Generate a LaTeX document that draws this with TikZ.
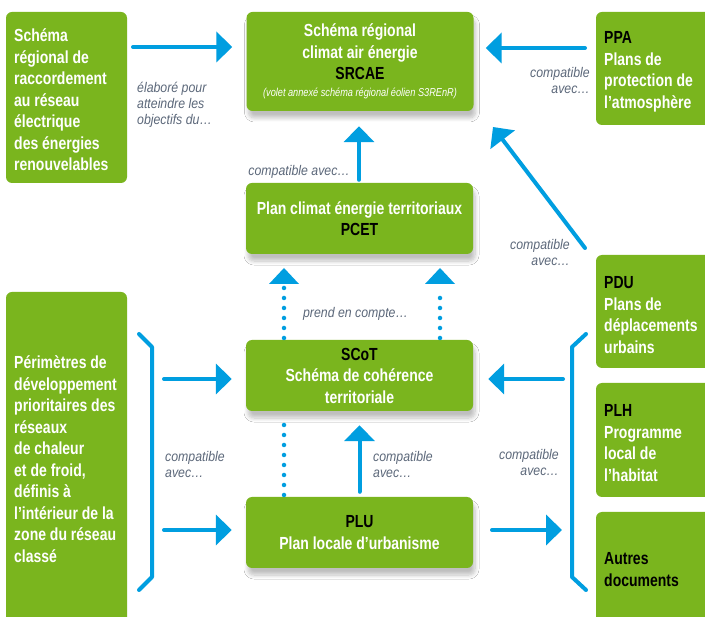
\documentclass[tikz,border=0pt]{standalone}
\usepackage{fontspec}
\setmainfont{Liberation Sans}[FakeStretch=0.8]
\newfontfamily\lblfont{Liberation Sans}[FakeStretch=0.88]
\usetikzlibrary{arrows.meta,shadows.blur}
\definecolor{vert}{RGB}{122,181,30}
\definecolor{bleu}{RGB}{0,158,224}
\definecolor{gris}{RGB}{92,104,122}
\tikzset{
  box/.style={fill=vert, rounded corners=6pt, inner sep=0pt, draw=none},
  midbox/.style={box, blur shadow={shadow xshift=2pt, shadow yshift=-7pt, shadow blur radius=4pt, shadow opacity=25, shadow blur steps=8},
    minimum width=227pt, minimum height=71pt, text=white, align=center,
    font=\bfseries\fontsize{17.5}{21.5}\selectfont},
  boxtxt/.style={text=white, align=left, anchor=north west, inner sep=0pt,
    font=\bfseries\fontsize{17.5}{21.5}\selectfont},
  lbl/.style={text=gris, inner sep=0pt, font=\lblfont\itshape\fontsize{14}{16}\selectfont},
  arr/.style={draw=bleu, line width=4pt, line cap=round, -{Triangle[width=30pt,length=16pt]}},
  dotline/.style={draw=bleu, line width=4.5pt, line cap=round, dash pattern=on 0pt off 10pt},
  bracket/.style={draw=bleu, line width=4pt, line cap=round, line join=round},
}
\begin{document}
\begin{tikzpicture}[x=1pt,y=-1pt]
\useasboundingbox (0,0) rectangle (705,617);
\clip (0,0) rectangle (705,617);
\fill[white] (0,0) rectangle (705,617);

% side boxes
\node[box, minimum width=121pt, minimum height=171pt] (rac) at (66.5,97.5) {};
\node[box, minimum width=121pt, minimum height=348pt] (peri) at (66.5,466) {};
\node[box, minimum width=124pt, minimum height=113pt] (ppa) at (658,68.5) {};
\node[box, minimum width=124pt, minimum height=113pt] (pdu) at (658,311.5) {};
\node[box, minimum width=124pt, minimum height=114pt] (plh) at (658,440) {};
\node[box, minimum width=124pt, minimum height=128pt] (autres) at (658,576) {};

\node[boxtxt] (racT) at (14,26.3) {\strut Schéma\\régional de\\raccordement\\au réseau\\électrique\\des énergies\\renouvelables};
\node[boxtxt] (periT) at (14,353.3) {\strut Périmètres de\\développement\\prioritaires des\\réseaux\\de chaleur\\et de froid,\\définis à\\l’intérieur de la\\zone du réseau\\classé};
\node[boxtxt] (ppaT) at (604,28.3) {\strut\textcolor{black}{PPA}\\Plans de\\protection de\\l’atmosphère};
\node[boxtxt] (pduT) at (604,273.3) {\strut\textcolor{black}{PDU}\\Plans de\\déplacements\\urbains};
\node[boxtxt] (plhT) at (604,401.3) {\strut\textcolor{black}{PLH}\\Programme\\local de\\l’habitat};
\node[boxtxt, text=black] (autresT) at (604,549.3) {\strut Autres\\documents};

% middle boxes
\node[midbox, minimum height=99pt] (srcae) at (360,61.5) {Schéma régional\\climat air énergie\\\textcolor{black}{SRCAE}\\[-5pt]{\mdseries\itshape\fontsize{11.5}{13}\selectfont(volet annexé schéma régional éolien S3REnR)}};
\node[midbox] (pcet) at (359.5,218.5) {Plan climat énergie territoriaux\\\textcolor{black}{PCET}};
\node[midbox] (scot) at (359.5,375.5) {\textcolor{black}{SCoT}\\Schéma de cohérence\\territoriale};
\node[midbox] (plu) at (359.5,532.5) {\textcolor{black}{PLU}\\Plan locale d’urbanisme};

% coordinates
\coordinate (a1s) at (133,47);
\coordinate (a2s) at (585,48);
\coordinate (diagS) at (585,248);
\coordinate (diagE) at (493,127);
\coordinate (lb1) at (164,379);
\coordinate (lb2) at (164,530);
\coordinate (rb1) at (563,379);
\coordinate (rb2) at (492,530);
\coordinate (rb2e) at (562,530);

% arrows
\draw[arr, shorten >=14pt] (a1s) -- (srcae.west |- a1s);
\draw[arr, shorten >=12pt] (a2s) -- (srcae.east |- a2s);
\draw[arr, shorten >=15pt, shorten <=3pt] (pcet.north -| 359,0) -- (srcae.south -| 359,0);
\draw[arr] (diagS) -- (diagE);
\draw[arr, shorten >=14pt] (lb1) -- (scot.west |- lb1);
\draw[arr, shorten >=14pt] (lb2) -- (plu.west |- lb2);
\draw[arr, shorten >=15pt] (rb1) -- (scot.east |- rb1);
\draw[arr] (rb2) -- (rb2e);
\draw[arr, shorten >=14pt, shorten <=5pt] (plu.north) -- (scot.south);

% dotted
\draw[dotline] (284,338) -- (284,288);
\draw[dotline] (440,338) -- (440,290);
\fill[bleu] (269,284) -- (299,284) -- (284,268) -- cycle;
\fill[bleu] (425,284) -- (455,284) -- (440,268) -- cycle;
\draw[dotline] (284,495) -- (284,416);

% brackets
\draw[bracket] (139,334) -- (152,347) -- (152,577) -- (139,590);
\draw[bracket] (586,334) -- (572,347) -- (572,577) -- (586,590);

% labels
\node[lbl, align=left, anchor=north west] (l1) at (137,80.8) {\strut élaboré pour\\atteindre les\\objectifs du…};
\node[lbl, align=right, anchor=north east] (l2) at (590,65.8) {\strut compatible\\avec…};
\node[lbl, anchor=base east] (l3) at (350,176) {compatible avec…};
\node[lbl, align=right, anchor=north east] (l4) at (570,237.8) {\strut compatible\\avec…};
\node[lbl, anchor=base] (l5) at (355.5,318) {prend en compte…};
\node[lbl, align=left, anchor=north west] (l6) at (165,449.8) {\strut compatible\\avec…};
\node[lbl, align=left, anchor=north west] (l7) at (373,449.8) {\strut compatible\\avec…};
\node[lbl, align=right, anchor=north east] (l8) at (559,447.8) {\strut compatible\\avec…};
\end{tikzpicture}
\end{document}
